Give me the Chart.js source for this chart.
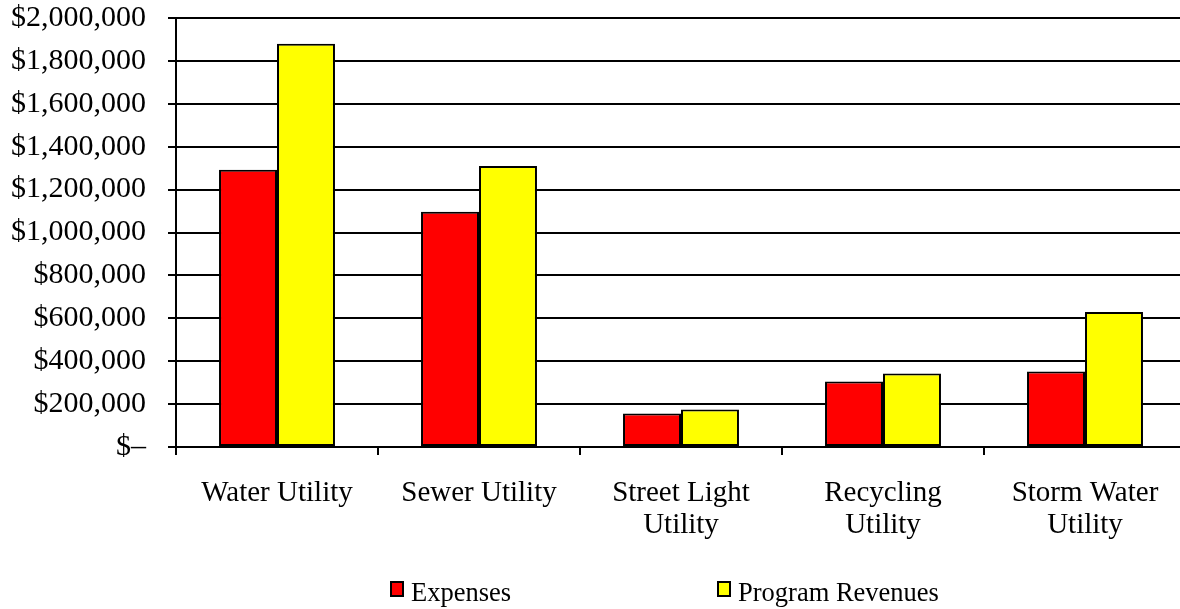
<!DOCTYPE html>
<html>
<head>
<meta charset="utf-8">
<script src="https://cdn.jsdelivr.net/npm/chart.js@4/dist/chart.umd.min.js"></script>
<style>
  html, body { margin: 0; padding: 0; background: #fff; overflow: hidden; }
  #wrap { width: 1190px; height: 609px; }
</style>
</head>
<body>
<div id="wrap"><canvas id="chart" width="1190" height="609"></canvas></div>
<script>
const categories = [['Water Utility'], ['Sewer Utility'], ['Street Light', 'Utility'], ['Recycling', 'Utility'], ['Storm Water', 'Utility']];
const seriesNames = ['Expenses', 'Program Revenues'];
const expenses = [1292000, 1097000, 156000, 305000, 352000];
const programRevenues = [1880000, 1310000, 175000, 343000, 629000];
const yMax = 2000000;
const yStep = 200000;

const FONT = '"Liberation Serif", "Times New Roman", serif';

// legend drawn by hand so the two items sit where the original has them
const legendPlugin = {
    id: 'manualLegend',
    afterDraw(chart) {
        const ctx = chart.ctx;
        const xs = [391, 718];
        const y = 589;
        ctx.save();
        ctx.font = '26.5px ' + FONT;
        ctx.textBaseline = 'alphabetic';
        chart.data.datasets.forEach((ds, i) => {
            ctx.fillStyle = ds.backgroundColor;
            ctx.fillRect(xs[i], y - 7, 12, 14);
            ctx.lineWidth = 2;
            ctx.strokeStyle = '#000';
            ctx.strokeRect(xs[i], y - 7, 12, 14);
            ctx.fillStyle = '#000';
            ctx.fillText(ds.label, xs[i] + 20, 601);
        });
        ctx.restore();
    }
};

new Chart(document.getElementById('chart'), {
    type: 'bar',
    data: {
        labels: categories,
        datasets: [
            { label: seriesNames[0], data: expenses, backgroundColor: '#FF0000', borderColor: '#000', borderWidth: 2, borderSkipped: false },
            { label: seriesNames[1], data: programRevenues, backgroundColor: '#FFFF00', borderColor: '#000', borderWidth: 2, borderSkipped: false }
        ]
    },
    options: {
        responsive: false,
        animation: false,
        layout: { padding: { top: 18, right: 4, left: 0, bottom: 0 } },
        plugins: {
            legend: { display: false },
            tooltip: { enabled: false }
        },
        datasets: {
            bar: { barPercentage: 1, categoryPercentage: 0.574 }
        },
        scales: {
            x: {
                grid: { drawOnChartArea: false, drawTicks: true, tickLength: 8, color: '#000', lineWidth: 2 },
                border: { color: '#000', width: 2 },
                ticks: {
                    color: '#000',
                    font: { family: FONT, size: 29, lineHeight: 1.09 },
                    padding: 23,
                    maxRotation: 0,
                    autoSkip: false
                },
                afterFit(scale) { scale.height = 162; scale.paddingLeft = 0; scale.paddingRight = 0; }
            },
            y: {
                min: 0,
                max: yMax,
                grid: { color: '#000', lineWidth: 2, tickLength: 8 },
                border: { color: '#000', width: 2 },
                ticks: {
                    stepSize: yStep,
                    color: '#000',
                    font: { family: FONT, size: 30, lineHeight: 1 },
                    padding: 22,
                    callback: v => v === 0 ? '$\u2013' : '$' + v.toLocaleString('en-US')
                },
                afterFit(scale) { scale.width = 176; scale.paddingTop = 0; scale.paddingBottom = 0; }
            }
        }
    },
    plugins: [legendPlugin]
});
</script>
</body>
</html>
